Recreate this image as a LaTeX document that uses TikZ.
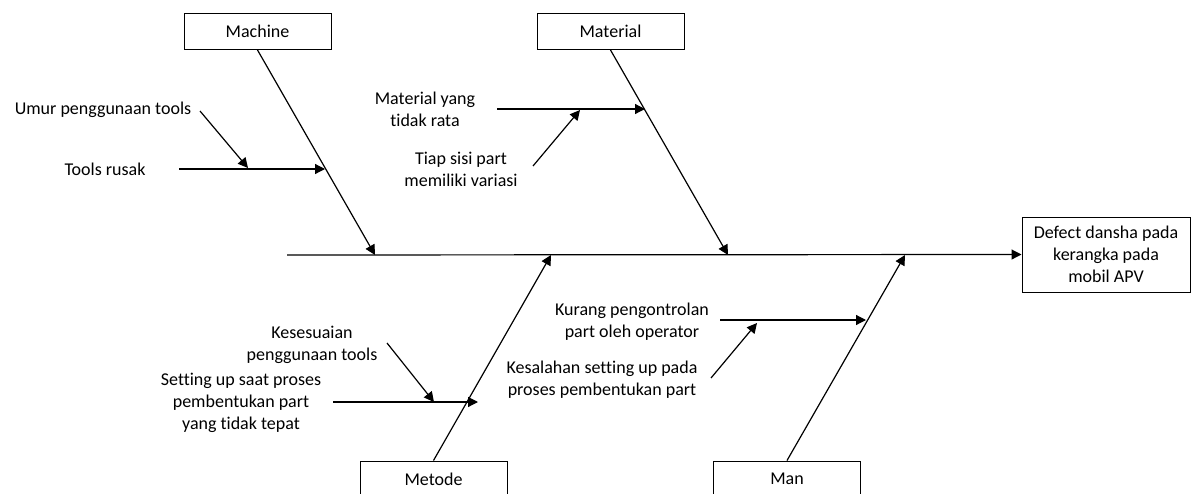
\documentclass[tikz,border=0pt]{standalone}
\usepackage{fontspec}
\setmainfont[Ligatures={NoCommon}]{Carlito}
\usetikzlibrary{arrows.meta}
\begin{document}
\begin{tikzpicture}[x=1pt,y=-1pt,
  every node/.style={font=\fontsize{18}{22}\selectfont},
  catbox/.style={draw,line width=1pt,minimum width=147pt,minimum height=36pt,inner sep=0pt},
  effbox/.style={draw,line width=1pt,minimum width=168pt,minimum height=75pt,inner sep=0pt,align=center},
  lbl/.style={align=center,inner sep=0pt},
  arr/.style={line width=1.2pt,-{Triangle[length=10pt,width=10pt]}},
  ln/.style={line width=1.2pt}]
\useasboundingbox (0,0) rectangle (1200,493);
\fill[white] (0,0) rectangle (1200,493);
% boxes
\node[catbox] (machine) at (257.5,31.5) {Machine};
\node[catbox] (material) at (610.5,31.5) {Material};
\node[catbox] (metode) at (433.5,479) {Metode};
\node[catbox] (man) at (787,479) {Man};
\node[effbox] (effect) at (1106,254.5) {Defect dansha pada\\kerangka pada\\mobil APV};
% spine
\coordinate (s0) at (287,255);
\coordinate (sMa) at (375,255);
\coordinate (sMt) at (728,255);
\coordinate (sMe) at (551,255);
\coordinate (sMn) at (905,255);
\draw[arr] (s0) -- (effect.west);
% main bones
\draw[arr] (machine.south) -- (sMa);
\draw[arr] (material.south) -- (sMt);
\draw[arr] (metode.north) -- (sMe);
\draw[arr] (man.north) -- (sMn);
% labels
\node[lbl] (umur) at (103,110) {Umur penggunaan tools};
\node[lbl] (tools) at (105,169) {Tools rusak};
\node[lbl] (matyang) at (425,109.5) {Material yang\\tidak rata};
\node[lbl] (tiap) at (461,169) {Tiap sisi part\\memiliki variasi};
\node[lbl] (kesesuaian) at (312,345) {Kesesuaian\\penggunaan tools};
\node[lbl] (setting) at (241,403) {Setting up saat proses\\pembentukan part\\yang tidak tepat};
\node[lbl] (kurang) at (632,322) {Kurang pengontrolan\\part oleh operator};
\node[lbl] (kesalahan) at (602,380) {Kesalahan setting up pada\\proses pembentukan part};
% sub bones
\coordinate (umurA) at (200,111);  \coordinate (umurB) at (248,168);
\coordinate (toolsA) at (179,169); \coordinate (toolsB) at (325,169);
\coordinate (matA) at (497,109);   \coordinate (matB) at (645,109);
\coordinate (tiapA) at (533,166);  \coordinate (tiapB) at (580,110);
\coordinate (kesA) at (387,343);   \coordinate (kesB) at (434,402);
\coordinate (setA) at (333,402);   \coordinate (setB) at (478,402);
\coordinate (kurA) at (720,320);   \coordinate (kurB) at (866,320);
\coordinate (salA) at (711,378);   \coordinate (salB) at (757,323);
\draw[arr] (umurA) -- (umurB);
\draw[arr] (toolsA) -- (toolsB);
\draw[arr] (matA) -- (matB);
\draw[arr] (tiapA) -- (tiapB);
\draw[arr] (kesA) -- (kesB);
\draw[arr] (setA) -- (setB);
\draw[arr] (kurA) -- (kurB);
\draw[arr] (salA) -- (salB);
\end{tikzpicture}
\end{document}
